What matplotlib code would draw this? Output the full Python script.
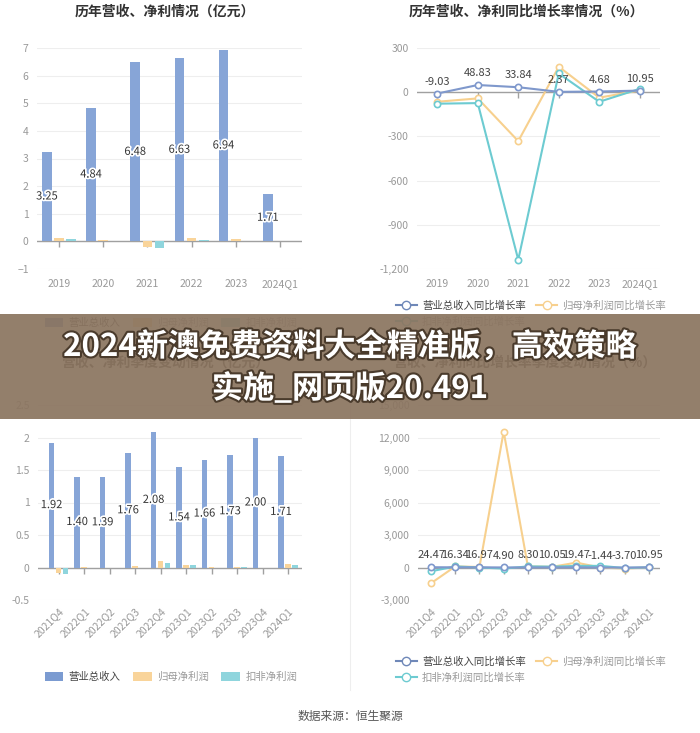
import matplotlib
matplotlib.use('Agg')  # no GUI
import matplotlib.pyplot as plt
import matplotlib.patheffects as pe
from matplotlib.patches import Patch, Rectangle
from matplotlib.lines import Line2D
from matplotlib.ticker import FuncFormatter
import numpy as np

plt.rcParams['font.family'] = ['Noto Sans CJK SC', 'DejaVu Sans']

# -----------------------------
# Data
# -----------------------------
years = ['2019', '2020', '2021', '2022', '2023', '2024Q1']
rev_year = [3.25, 4.84, 6.48, 6.63, 6.94, 1.71]
np_year = [0.14, 0.06, -0.19, 0.12, 0.07, 0.02]
dnp_year = [0.07, 0.01, -0.23, 0.05, 0.01, 0.01]

rev_yoy = [-9.03, 48.83, 33.84, 2.37, 4.68, 10.95]
np_yoy = [-65, -42, -332, 173, -37, 12]
dnp_yoy = [-78, -74, -1137, 127, -65, 23]

quarters = ['2021Q4', '2022Q1', '2022Q2', '2022Q3', '2022Q4',
            '2023Q1', '2023Q2', '2023Q3', '2023Q4', '2024Q1']
rev_q = [1.92, 1.40, 1.39, 1.76, 2.08, 1.54, 1.66, 1.73, 2.00, 1.71]
np_q = [-0.09, 0.01, 0.0, 0.025, 0.095, 0.045, 0.01, 0.01, 0.0, 0.055]
dnp_q = [-0.10, 0.0, 0.0, 0.0, 0.07, 0.035, 0.0, 0.005, 0.0, 0.035]

rev_q_yoy = [24.47, 16.34, 16.97, 4.90, 8.30, 10.05, 19.47, -1.44, -3.70, 10.95]
np_q_yoy = [-1450, 100, 50, 12550, 100, 60, 450, 0, -100, 10]
dnp_q_yoy = [-350, 100, 0, -100, 100, 80, 150, 150, -50, 20]

bar_names = ['营业总收入', '归母净利润', '扣非净利润']
line_names = ['营业总收入同比增长率', '归母净利润同比增长率', '扣非净利润同比增长率']

# -----------------------------
# Styles
# -----------------------------
C_REV = '#87a5d7'
C_NP = '#f9d49a'
C_DNP = '#8fd5dd'
L_REV = '#7f98cc'
L_NP = '#f7d08e'
L_DNP = '#6dcbd1'
GRID = '#eeeeee'
TICK = '#999999'
W, H = 700, 733


def fx(px):
    return px / W


def fy(px):
    return 1 - px / H


def style_axes(ax, xlabels, rotate=False):
    for s in ax.spines.values():
        s.set_visible(False)
    ax.yaxis.grid(True, color=GRID, lw=0.8)
    ax.set_axisbelow(True)
    ax.tick_params(length=0, labelsize=7.5, labelcolor=TICK, pad=6)
    x = np.arange(len(xlabels))
    ax.set_xticks(x)
    if rotate:
        ax.set_xticklabels(xlabels, rotation=45, ha='right', rotation_mode='anchor')
        ax.tick_params(axis='x', pad=4)
    else:
        ax.set_xticklabels(xlabels)
        ax.tick_params(axis='x', pad=7)
    ax.axhline(0, color='#a0a0a0', lw=1, zorder=2)
    ax.plot(x, np.zeros(len(x)), linestyle='none', marker=3, markersize=4,
            color='#a0a0a0', zorder=2)


def bar_panel(ax, labels, rev, net, dnet):
    x = np.arange(len(labels))
    w = 0.22
    off = 0.275
    ax.bar(x - off, rev, w, color=C_REV, zorder=3)
    ax.bar(x, net, w, color=C_NP, zorder=3)
    ax.bar(x + off, dnet, w, color=C_DNP, zorder=3)
    for xi, v in zip(x, rev):
        ax.text(xi - off, v / 2, f'{v:.2f}', ha='center', va='center', fontsize=8,
                color='#333333', zorder=5,
                path_effects=[pe.withStroke(linewidth=2.5, foreground='white')])


def line_panel(ax, labels, rev, net, dnet):
    x = np.arange(len(labels))
    kw = dict(marker='o', markersize=4.5, markerfacecolor='white', lw=1.5,
              markeredgewidth=1.2)
    ax.plot(x, net, color=L_NP, zorder=3, **kw)
    ax.plot(x, dnet, color=L_DNP, zorder=4, **kw)
    ax.plot(x, rev, color=L_REV, zorder=5, **kw)
    for xi, v in zip(x, rev):
        ax.annotate(f'{v:.2f}', (xi, v), xytext=(0, 5), textcoords='offset points',
                    ha='center', va='bottom', fontsize=8, color='#444444', zorder=6)


comma = FuncFormatter(lambda v, p: f'{v:,.0f}')

fig = plt.figure(figsize=(7, 7.33), dpi=100)

# top left
ax1 = fig.add_axes([fx(37), fy(269), fx(265), 221 / H])
bar_panel(ax1, years, rev_year, np_year, dnp_year)
style_axes(ax1, years)
ax1.set_xlim(-0.5, 5.5)
ax1.set_ylim(-1, 7)
ax1.set_yticks(range(-1, 8))

# top right
ax2 = fig.add_axes([fx(417), fy(269), fx(243), 221 / H])
line_panel(ax2, years, rev_yoy, np_yoy, dnp_yoy)
style_axes(ax2, years)
ax2.set_xlim(-0.5, 5.5)
ax2.set_ylim(-1200, 300)
ax2.set_yticks([-1200, -900, -600, -300, 0, 300])
ax2.yaxis.set_major_formatter(comma)

# bottom left
ax3 = fig.add_axes([fx(38), fy(600), fx(264), 195 / H])
bar_panel(ax3, quarters, rev_q, np_q, dnp_q)
style_axes(ax3, quarters, rotate=True)
ax3.set_xlim(-0.81, 9.55)
ax3.set_ylim(-0.5, 2.5)
ax3.set_yticks([-0.5, 0, 0.5, 1, 1.5, 2, 2.5])
ax3.yaxis.set_major_formatter(FuncFormatter(lambda v, p: f'{v:g}'))

# bottom right
ax4 = fig.add_axes([fx(418), fy(600), fx(242), 195 / H])
line_panel(ax4, quarters, rev_q_yoy, np_q_yoy, dnp_q_yoy)
style_axes(ax4, quarters, rotate=True)
ax4.set_xlim(-0.54, 9.46)
ax4.set_ylim(-3000, 15000)
ax4.set_yticks(range(-3000, 15001, 3000))
ax4.yaxis.set_major_formatter(comma)

# -----------------------------
# Titles
# -----------------------------
tkw = dict(ha='center', va='center', fontsize=10, fontweight='bold', color='#333333')
fig.text(fx(165), fy(12), '历年营收、净利情况（亿元）', **tkw)
fig.text(fx(526), fy(12), '历年营收、净利同比增长率情况（%）', **tkw)
fig.text(fx(165), fy(363), '营收、净利季度变动情况（亿元）', **tkw)
fig.text(fx(525), fy(363), '营收、净利同比增长率季度变动情况（%）', **tkw)

# -----------------------------
# Legends
# -----------------------------
def bar_legend(ycen):
    handles = [Patch(facecolor=c, edgecolor='none') for c in ['#7b9bd1', C_NP, C_DNP]]
    leg = fig.legend(handles, bar_names, loc='center', bbox_to_anchor=(fx(171), fy(ycen)),
                     ncol=3, frameon=False, fontsize=7.5, handlelength=1.8,
                     handleheight=1.0, columnspacing=1.2, handletextpad=0.5)
    for i, t in enumerate(leg.get_texts()):
        t.set_color('#444444' if i == 0 else '#999999')


def line_legend(ycen):
    cols = ['#6f88b8', L_NP, L_DNP]
    # legend fills column by column: put item 3 under item 1
    order = [0, 2, 1]
    handles = [Line2D([], [], color=cols[i], marker='o', markersize=6,
                      markerfacecolor='white', lw=1.5) for i in order]
    labels = [line_names[i] for i in order]
    leg = fig.legend(handles, labels, loc='center', bbox_to_anchor=(fx(531), fy(ycen)),
                     ncol=2, frameon=False, fontsize=7.5, handlelength=2.0,
                     columnspacing=1.0, handletextpad=0.5, labelspacing=0.5)
    for i, t in enumerate(leg.get_texts()):
        t.set_color('#444444' if order[i] == 0 else '#999999')


bar_legend(323)
bar_legend(677)
line_legend(313.5)
line_legend(669.5)

fig.add_artist(Line2D([0.5, 0.5], [fy(690), fy(395)], color='#eeeeee', lw=0.8,
                      transform=fig.transFigure))

fig.text(0.5, fy(716), '数据来源：恒生聚源', ha='center', va='center',
         fontsize=8.5, color='#555555')

# -----------------------------
# Banner overlay
# -----------------------------
fig.add_artist(Rectangle((0, fy(419)), 1, 105 / H, transform=fig.transFigure,
                         facecolor='#8b7560', alpha=0.93, edgecolor='none', zorder=10))
bkw = dict(ha='center', va='center', fontsize=22.5, fontweight='bold', color='white',
           zorder=11, path_effects=[pe.withStroke(linewidth=3, foreground='#4a3b2c')])
fig.text(0.5, fy(347), '2024新澳免费资料大全精准版，高效策略', **bkw)
fig.text(0.5, fy(389), '实施_网页版20.491', **bkw)

fig.savefig('out.png', dpi=100)
